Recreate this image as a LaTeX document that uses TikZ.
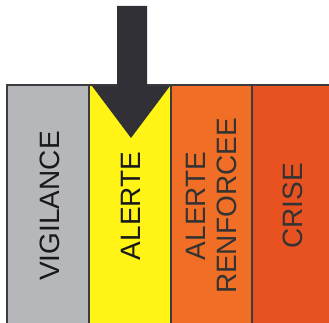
\documentclass[tikz,border=0pt]{standalone}
\usepackage{fontspec}
\setmainfont{Liberation Sans}
\definecolor{vigigrey}{RGB}{182,183,187}
\definecolor{alertyellow}{RGB}{255,244,22}
\definecolor{renforange}{RGB}{240,110,38}
\definecolor{criseorange}{RGB}{232,82,32}
\definecolor{arrowdark}{RGB}{48,48,54}
\definecolor{bordergrey}{RGB}{60,60,62}
\tikzset{
  level/.style={draw=bordergrey,line width=1.2pt},
  levellabel/.style={rotate=90,align=center,font=\fontsize{28}{31}\selectfont},
}

\begin{document}
\begin{tikzpicture}[x=1pt,y=1pt]
  \useasboundingbox[fill=white] (0,0) rectangle (329,323);
  % niveaux
  \path[level,fill=vigigrey] (7,-3) rectangle (89,238);
  \path[level,fill=alertyellow] (89,-3) rectangle (171,238);
  \path[level,fill=renforange] (171,-3) rectangle (252,238);
  \path[level,fill=criseorange] (252,-3) rectangle (332,238);
  % fleche
  \fill[arrowdark] (117,317) -- (147,317) -- (147,237) -- (170,237) -- (131,185)
    -- (92,237) -- (117,237) -- cycle;
  \node[levellabel,text=black!90] (vigilance) at (50,117) {VIGILANCE};
  \node[levellabel,text=black!90] (alerte) at (131,117) {ALERTE};
  \node[levellabel,text=black!80] (renforcee) at (212,117) {ALERTE\\RENFORCEE};
  \node[levellabel,text=black!80] (crise) at (293,117) {CRISE};
\end{tikzpicture}
\end{document}
